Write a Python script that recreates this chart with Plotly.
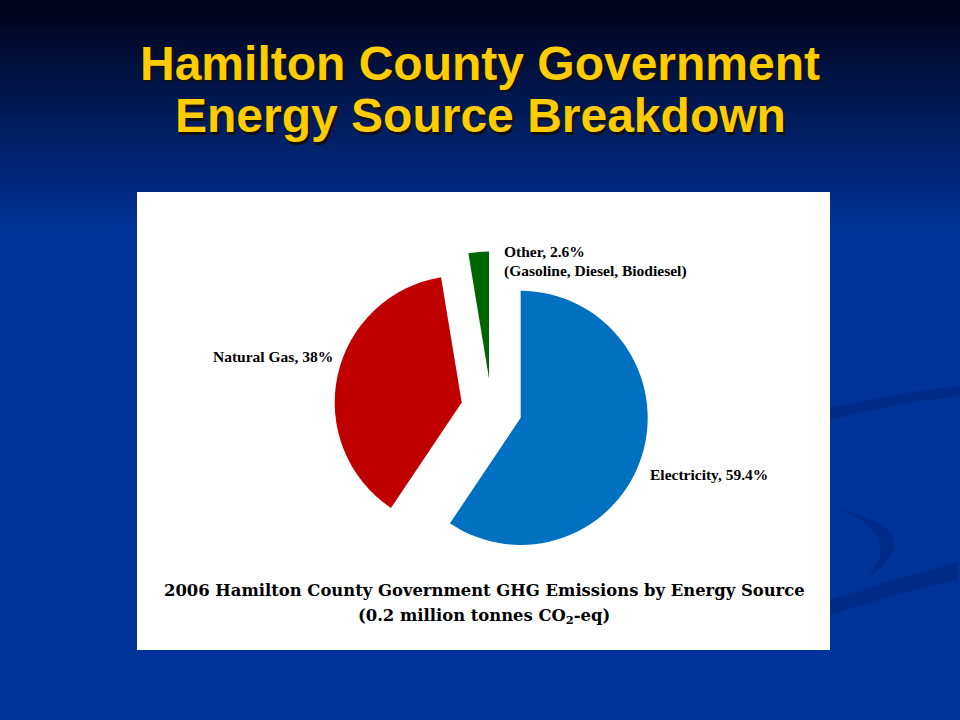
import plotly.graph_objects as go

labels = ["Electricity", "Natural Gas", "Other"]
values = [59.4, 38.0, 2.6]
colors = ["#0070C0", "#C00000", "#006600"]
pulls = [0.24, 0.24, 0.24]

title_lines = ["Hamilton County Government", "Energy Source Breakdown"]
caption_lines = ["2006 Hamilton County Government GHG Emissions by Energy Source",
                 "(0.2 million tonnes CO<sub>2</sub>-eq)"]

W, H = 960, 720

def px(x):
    return x / W

def py(y):
    return 1 - y / H

fig = go.Figure()
fig.add_trace(go.Pie(
    labels=labels, values=values, sort=False, direction="clockwise", rotation=0,
    marker=dict(colors=colors, line=dict(width=0)),
    pull=pulls, textinfo="none", hoverinfo="label+percent", showlegend=False,
    domain=dict(x=[px(334), px(649)], y=[py(566.5), py(251.5)]),
))

shapes = []
top = (0, 3, 24)
bot = (0, 51, 153)
n = 40
grad_end = 230
for i in range(n):
    y0 = grad_end * i / n
    y1 = grad_end * (i + 1) / n + 1
    t = (i + 0.5) / n
    c = tuple(int(round(top[k] + (bot[k] - top[k]) * t)) for k in range(3))
    shapes.append(dict(type="rect", xref="paper", yref="paper", layer="below",
                       x0=0, x1=1, y0=py(y1), y1=py(y0), line=dict(width=0),
                       fillcolor="rgb(%d,%d,%d)" % c))
swoosh = "rgba(0,38,125,0.6)"
shapes.append(dict(type="path", xref="paper", yref="paper", layer="below",
                   path="M %f %f Q %f %f %f %f L %f %f Q %f %f %f %f Z" % (
                       px(830), py(408), px(900), py(392), px(960), py(386),
                       px(960), py(396), px(900), py(402), px(830), py(420)),
                   fillcolor=swoosh, line=dict(width=0)))
shapes.append(dict(type="path", xref="paper", yref="paper", layer="below",
                   path="M %f %f Q %f %f %f %f L %f %f Q %f %f %f %f Z" % (
                       px(830), py(600), px(900), py(577), px(958), py(562),
                       px(958), py(580), px(900), py(592), px(830), py(615)),
                   fillcolor=swoosh, line=dict(width=0)))
shapes.append(dict(type="path", xref="paper", yref="paper", layer="below",
                   path="M %f %f Q %f %f %f %f Q %f %f %f %f Z" % (
                       px(832), py(508), px(935), py(530), px(868), py(578),
                       px(905), py(530), px(832), py(508)),
                   fillcolor=swoosh, line=dict(width=0)))
shapes.append(dict(type="rect", xref="paper", yref="paper", layer="below",
                   x0=px(137), x1=px(830), y0=py(650), y1=py(192),
                   fillcolor="white", line=dict(width=0)))

annotations = []
title_font = "Liberation Sans, Arial, sans-serif"
for i, line in enumerate(title_lines):
    yc = 63 + i * 53
    annotations.append(dict(text="<b>%s</b>" % line, x=px(482), y=py(yc + 2.5),
                            xref="paper", yref="paper", showarrow=False, yanchor="middle",
                            font=dict(family=title_font, size=48, color="#101010")))
    annotations.append(dict(text="<b>%s</b>" % line, x=px(480), y=py(yc),
                            xref="paper", yref="paper", showarrow=False, yanchor="middle",
                            font=dict(family=title_font, size=48, color="#FFCC00")))

lab_font = dict(family="Liberation Serif, Times New Roman, serif", size=15.5, color="#000000")
annotations.append(dict(text="<b>Other, 2.6%</b>", x=px(502), y=py(252), xanchor="left", yanchor="middle",
                        xref="paper", yref="paper", showarrow=False, font=lab_font))
annotations.append(dict(text="<b>(Gasoline, Diesel, Biodiesel)</b>", x=px(502), y=py(271), xanchor="left",
                        yanchor="middle", xref="paper", yref="paper", showarrow=False, font=lab_font))
annotations.append(dict(text="<b>Natural Gas, 38%</b>", x=px(211), y=py(356), xanchor="left", yanchor="middle",
                        xref="paper", yref="paper", showarrow=False, font=lab_font))
annotations.append(dict(text="<b>Electricity, 59.4%</b>", x=px(648), y=py(474), xanchor="left", yanchor="middle",
                        xref="paper", yref="paper", showarrow=False, font=lab_font))

cap_font = dict(family="DejaVu Serif, serif", size=16.4, color="#000000")
for i, line in enumerate(caption_lines):
    annotations.append(dict(text="<b>%s</b>" % line, x=px(484), y=py(590 + i * 26), yanchor="middle",
                            xref="paper", yref="paper", showarrow=False, font=cap_font))

fig.update_layout(width=W, height=H, margin=dict(l=0, r=0, t=0, b=0),
                  paper_bgcolor="rgb(0,51,153)", plot_bgcolor="rgba(0,0,0,0)",
                  shapes=shapes, annotations=annotations)
fig.write_html("out.html", config={"displayModeBar": False},
               post_script="document.body.style.margin='0px';document.body.style.background='rgb(0,51,153)';")
